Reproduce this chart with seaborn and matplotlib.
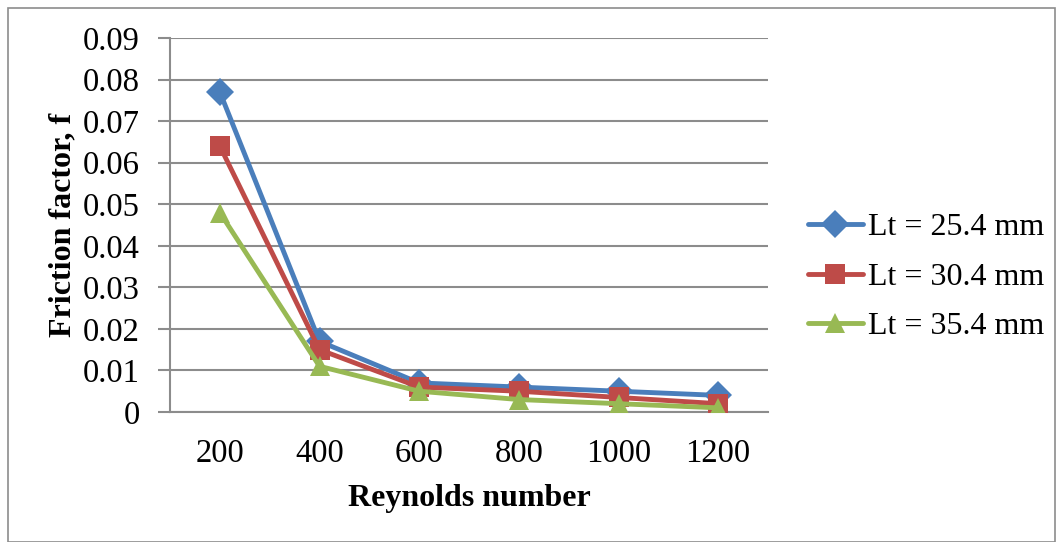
import matplotlib
matplotlib.use("Agg")
import matplotlib.pyplot as plt
import seaborn as sns
import pandas as pd
from matplotlib.patches import Rectangle

reynolds = [200, 400, 600, 800, 1000, 1200]
series_names = ["Lt = 25.4 mm", "Lt = 30.4 mm", "Lt = 35.4 mm"]
f_254 = [0.077, 0.017, 0.007, 0.006, 0.005, 0.004]
f_304 = [0.064, 0.015, 0.006, 0.005, 0.0035, 0.002]
f_354 = [0.048, 0.011, 0.005, 0.003, 0.002, 0.001]
y_ticks = [0, 0.01, 0.02, 0.03, 0.04, 0.05, 0.06, 0.07, 0.08, 0.09]
y_tick_labels = ["0", "0.01", "0.02", "0.03", "0.04", "0.05", "0.06", "0.07", "0.08", "0.09"]

df = pd.DataFrame({
    "Re": reynolds * 3,
    "f": f_254 + f_304 + f_354,
    "series": [series_names[0]] * 6 + [series_names[1]] * 6 + [series_names[2]] * 6,
})

sns.set_theme(style="white")
plt.rcParams["font.family"] = ["Liberation Serif", "DejaVu Serif"]
plt.rcParams["text.color"] = "black"
plt.rcParams["axes.labelcolor"] = "black"
plt.rcParams["xtick.color"] = "black"
plt.rcParams["ytick.color"] = "black"

fig = plt.figure(figsize=(10.63, 5.42), dpi=100)
ax = fig.add_axes([170 / 1063, 1 - 412 / 542, (768 - 170) / 1063, (412 - 38) / 542])

palette = {series_names[0]: "#4A7EBB", series_names[1]: "#BE4B48", series_names[2]: "#98B954"}
markers = {series_names[0]: "D", series_names[1]: "s", series_names[2]: "^"}
sns.lineplot(data=df, x="Re", y="f", hue="series", style="series", palette=palette,
             markers=markers, dashes=False, markersize=14, linewidth=3.5,
             markeredgewidth=0, ax=ax, zorder=3)

ax.set_xlim(100, 1300)
ax.set_ylim(0, 0.09)
ax.set_xticks(reynolds)
ax.set_xticklabels([str(r) for r in reynolds], fontsize=23.5, color="black")
ax.set_yticks(y_ticks)
ax.set_yticklabels(y_tick_labels, fontsize=23.5, color="black")
ax.grid(axis="y", color="#8C8C8C", linewidth=1.5, zorder=0)
ax.grid(axis="x", visible=False)
for s in ["top", "right"]:
    ax.spines[s].set_visible(False)
ax.spines["left"].set_color("#8C8C8C")
ax.spines["left"].set_linewidth(1.5)
ax.spines["bottom"].set_color("#8C8C8C")
ax.spines["bottom"].set_linewidth(1.5)
ax.tick_params(axis="y", length=8.6, width=1.5, color="#8C8C8C", left=True, pad=13)
ax.tick_params(axis="x", length=0, pad=19)

ax.set_xlabel("Reynolds number", fontsize=23, fontweight="bold", labelpad=11, color="black")
ax.set_ylabel("Friction factor, f", fontsize=23, fontweight="bold", labelpad=4, color="black")

for line in ax.get_lines():
    line.set_solid_capstyle("round")

leg = ax.legend(loc="center left", bbox_to_anchor=(808 / 1063, 1 - 277 / 542),
                bbox_transform=fig.transFigure, frameon=False,
                fontsize=23, handlelength=1.72, handletextpad=0.15, labelspacing=0.63,
                borderaxespad=0, borderpad=0)
for t in leg.get_texts():
    t.set_color("black")
for h in leg.get_lines():
    h.set_solid_capstyle("round")

fig.patches.append(Rectangle((8 / 1063, 0), (1055 - 8) / 1063, 1 - 8 / 542,
                             transform=fig.transFigure, fill=False,
                             edgecolor="#8C8C8C", linewidth=1.2))

fig.savefig("out.png", dpi=100)
